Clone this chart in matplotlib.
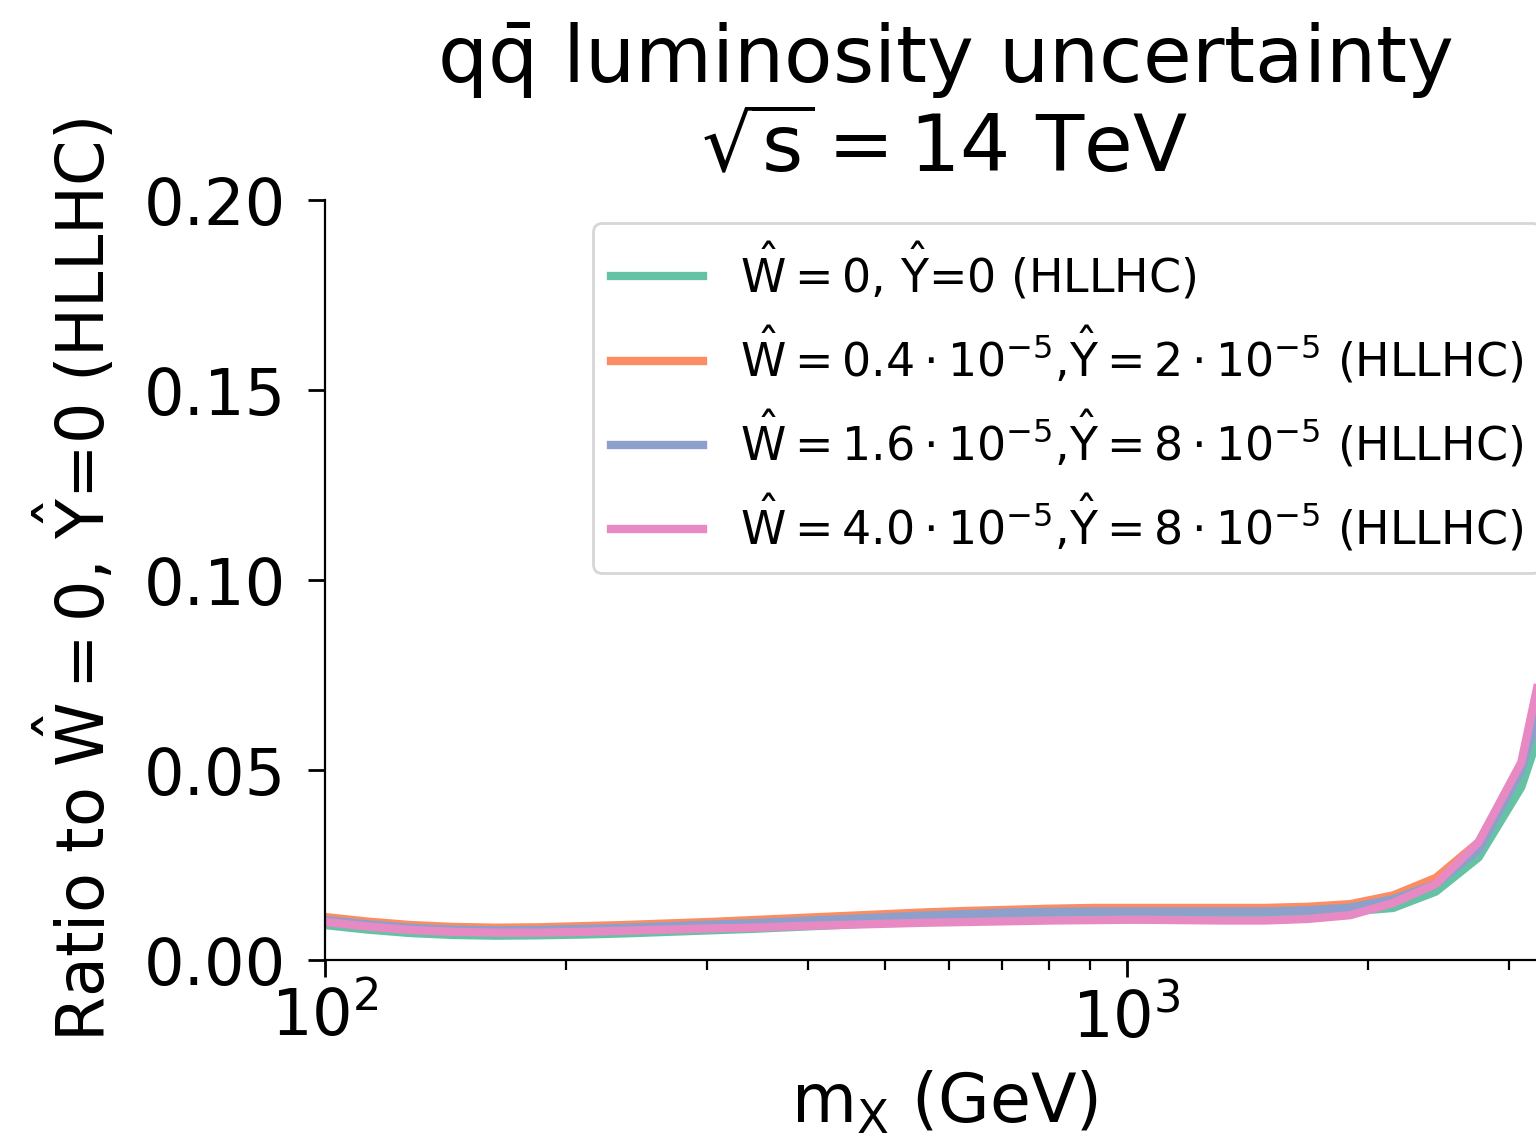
import numpy as np
import matplotlib
matplotlib.use("Agg")
import matplotlib.pyplot as plt

plt.rcParams['font.family'] = ['DejaVu Sans']
plt.rcParams['mathtext.default'] = 'regular'

# mass grid (log spaced), GeV
mx = 10 ** (2 + 0.0533 * np.arange(30))

w0_y0 = [0.0092, 0.0080, 0.0071, 0.0066, 0.0064, 0.0065, 0.0067, 0.0070, 0.0074, 0.0078,
         0.0082, 0.0087, 0.0092, 0.0098, 0.0104, 0.0109, 0.0113, 0.0116, 0.0118, 0.0118,
         0.0118, 0.0118, 0.0118, 0.0121, 0.0128, 0.0137, 0.0180, 0.0270, 0.0455, 0.0790]
w04_y2 = [0.0113, 0.0101, 0.0092, 0.0087, 0.0085, 0.0086, 0.0089, 0.0092, 0.0096, 0.0100,
          0.0105, 0.0110, 0.0115, 0.0120, 0.0125, 0.0129, 0.0132, 0.0135, 0.0137, 0.0137,
          0.0137, 0.0137, 0.0137, 0.0140, 0.0147, 0.0170, 0.0216, 0.0310, 0.0510, 0.1000]
w16_y8 = [0.0105, 0.0094, 0.0085, 0.0080, 0.0078, 0.0079, 0.0082, 0.0085, 0.0089, 0.0093,
          0.0097, 0.0102, 0.0107, 0.0112, 0.0117, 0.0121, 0.0125, 0.0127, 0.0128, 0.0128,
          0.0128, 0.0128, 0.0128, 0.0131, 0.0138, 0.0160, 0.0200, 0.0290, 0.0500, 0.0880]
w40_y8 = [0.0100, 0.0088, 0.0079, 0.0074, 0.0072, 0.0072, 0.0074, 0.0077, 0.0080, 0.0083,
          0.0085, 0.0089, 0.0092, 0.0095, 0.0098, 0.0100, 0.0102, 0.0104, 0.0105, 0.0106,
          0.0105, 0.0104, 0.0104, 0.0108, 0.0118, 0.0150, 0.0200, 0.0310, 0.0520, 0.1050]

labels = [r'$\hat{W}=0$, $\hat{Y}$=0 (HLLHC)',
          r'$\hat{W}=0.4\cdot10^{-5}$,$\hat{Y}=2\cdot10^{-5}$ (HLLHC)',
          r'$\hat{W}=1.6\cdot10^{-5}$,$\hat{Y}=8\cdot10^{-5}$ (HLLHC)',
          r'$\hat{W}=4.0\cdot10^{-5}$,$\hat{Y}=8\cdot10^{-5}$ (HLLHC)']
colors = ['#66c2a5', '#fc8d62', '#8da0cb', '#e78ac3']

fig = plt.figure(figsize=(7.68, 5.74), dpi=200)
ax = fig.add_axes([325 / 1536, 188 / 1148, 1239 / 1536, 760 / 1148])

for ys, lab, c in zip([w0_y0, w04_y2, w16_y8, w40_y8], labels, colors):
    ax.plot(mx, ys, color=c, lw=3, label=lab)

ax.set_xscale('log')
ax.set_xlim(mx[0], mx[-1])
ax.set_ylim(0, 0.2)
ax.set_yticks([0, 0.05, 0.10, 0.15, 0.20])
ax.yaxis.set_major_formatter(matplotlib.ticker.FormatStrFormatter('%.2f'))
ax.spines['top'].set_visible(False)
ax.spines['right'].set_visible(False)
ax.tick_params(labelsize=23, width=1.0, length=6)
ax.tick_params(axis='y', pad=8)
ax.tick_params(which='minor', width=0.8, length=3.5)

ax.set_xlabel(r'$m_X$ (GeV)', fontsize=24, labelpad=7)
ax.set_ylabel(r'Ratio to $\hat{W}=0$, $\hat{Y}$=0 (HLLHC)', fontsize=23.5, labelpad=9)
ax.set_title(r'$q\bar{q}$ luminosity uncertainty' + '\n' + r'$\sqrt{s}=14$ TeV', fontsize=28.5, pad=10)

ax.legend(fontsize=16.5, loc='upper right')

fig.savefig('out.png', dpi=200)
